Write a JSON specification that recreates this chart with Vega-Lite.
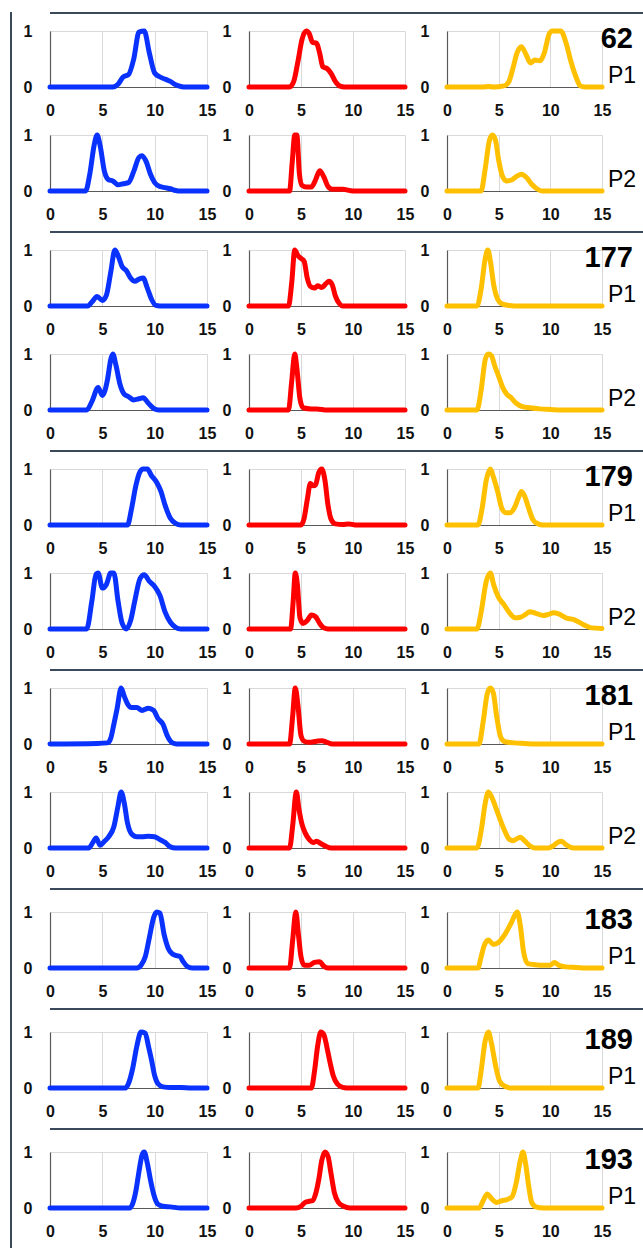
{
"$schema":"https://vega.github.io/schema/vega-lite/v6.json",
"background":"white",
"padding":{"left":10,"top":12,"right":0,"bottom":0},
"datasets":{
"b62_1":[{"x":0,"y":0},{"x":6,"y":0},{"x":6.5,"y":0.05},{"x":7,"y":0.18},{"x":7.5,"y":0.22},{"x":8,"y":0.5},{"x":8.5,"y":0.98},{"x":9,"y":1},{"x":9.5,"y":0.6},{"x":10,"y":0.25},{"x":10.5,"y":0.18},{"x":11,"y":0.14},{"x":11.5,"y":0.1},{"x":12,"y":0.04},{"x":12.5,"y":0.01},{"x":13,"y":0},{"x":15,"y":0}],
"r62_1":[{"x":0,"y":0},{"x":3.9,"y":0},{"x":4.3,"y":0.1},{"x":4.7,"y":0.45},{"x":5.1,"y":0.85},{"x":5.5,"y":1},{"x":5.8,"y":0.95},{"x":6.1,"y":0.8},{"x":6.5,"y":0.78},{"x":6.8,"y":0.6},{"x":7.1,"y":0.36},{"x":7.5,"y":0.33},{"x":7.9,"y":0.24},{"x":8.3,"y":0.1},{"x":8.7,"y":0.02},{"x":9.2,"y":0},{"x":15,"y":0}],
"y62_1":[{"x":0,"y":0},{"x":3.5,"y":0},{"x":4,"y":0.01},{"x":4.5,"y":0},{"x":5.5,"y":0.02},{"x":6,"y":0.1},{"x":6.4,"y":0.35},{"x":6.8,"y":0.62},{"x":7.2,"y":0.72},{"x":7.6,"y":0.6},{"x":8.1,"y":0.43},{"x":8.5,"y":0.48},{"x":9,"y":0.47},{"x":9.4,"y":0.6},{"x":9.9,"y":0.95},{"x":10.2,"y":1},{"x":11,"y":1},{"x":11.5,"y":0.8},{"x":12,"y":0.45},{"x":12.5,"y":0.17},{"x":12.9,"y":0.02},{"x":13.3,"y":0},{"x":15,"y":0}],
"b62_2":[{"x":0,"y":0},{"x":3.4,"y":0},{"x":3.8,"y":0.3},{"x":4.2,"y":0.8},{"x":4.5,"y":1},{"x":4.8,"y":0.8},{"x":5.2,"y":0.35},{"x":5.6,"y":0.2},{"x":6,"y":0.18},{"x":6.5,"y":0.11},{"x":7,"y":0.13},{"x":7.5,"y":0.15},{"x":8,"y":0.35},{"x":8.5,"y":0.6},{"x":8.8,"y":0.63},{"x":9.2,"y":0.52},{"x":9.6,"y":0.3},{"x":10,"y":0.15},{"x":10.5,"y":0.08},{"x":11,"y":0.06},{"x":11.5,"y":0.04},{"x":12,"y":0.01},{"x":12.5,"y":0},{"x":15,"y":0}],
"r62_2":[{"x":0,"y":0},{"x":3.9,"y":0},{"x":4.15,"y":0.5},{"x":4.4,"y":1},{"x":4.6,"y":1},{"x":4.85,"y":0.3},{"x":5.1,"y":0.1},{"x":5.5,"y":0.07},{"x":6,"y":0.07},{"x":6.4,"y":0.2},{"x":6.8,"y":0.36},{"x":7.2,"y":0.25},{"x":7.6,"y":0.08},{"x":8,"y":0.03},{"x":9,"y":0.03},{"x":10,"y":0},{"x":15,"y":0}],
"y62_2":[{"x":0,"y":0},{"x":3.3,"y":0},{"x":3.7,"y":0.4},{"x":4.1,"y":0.9},{"x":4.4,"y":1},{"x":4.7,"y":0.9},{"x":5,"y":0.55},{"x":5.4,"y":0.25},{"x":5.8,"y":0.18},{"x":6.3,"y":0.2},{"x":6.8,"y":0.27},{"x":7.2,"y":0.3},{"x":7.7,"y":0.24},{"x":8.2,"y":0.12},{"x":8.7,"y":0.04},{"x":9.2,"y":0},{"x":15,"y":0}],
"b177_1":[{"x":0,"y":0},{"x":3.6,"y":0},{"x":4,"y":0.07},{"x":4.5,"y":0.17},{"x":5,"y":0.1},{"x":5.4,"y":0.2},{"x":5.8,"y":0.6},{"x":6.2,"y":1},{"x":6.5,"y":0.9},{"x":6.9,"y":0.7},{"x":7.3,"y":0.63},{"x":7.7,"y":0.5},{"x":8.1,"y":0.44},{"x":8.5,"y":0.48},{"x":8.9,"y":0.5},{"x":9.3,"y":0.32},{"x":9.7,"y":0.12},{"x":10.1,"y":0.01},{"x":10.5,"y":0},{"x":15,"y":0}],
"r177_1":[{"x":0,"y":0},{"x":3.8,"y":0},{"x":4.1,"y":0.4},{"x":4.4,"y":1},{"x":4.7,"y":0.9},{"x":5,"y":0.85},{"x":5.3,"y":0.8},{"x":5.6,"y":0.5},{"x":5.9,"y":0.35},{"x":6.3,"y":0.32},{"x":6.6,"y":0.36},{"x":7,"y":0.33},{"x":7.4,"y":0.4},{"x":7.7,"y":0.44},{"x":8,"y":0.38},{"x":8.3,"y":0.18},{"x":8.7,"y":0.04},{"x":9,"y":0},{"x":15,"y":0}],
"y177_1":[{"x":0,"y":0},{"x":2.9,"y":0},{"x":3.3,"y":0.3},{"x":3.7,"y":0.85},{"x":3.95,"y":1},{"x":4.2,"y":0.8},{"x":4.5,"y":0.4},{"x":4.9,"y":0.12},{"x":5.3,"y":0.04},{"x":6,"y":0.01},{"x":7,"y":0},{"x":15,"y":0}],
"b177_2":[{"x":0,"y":0},{"x":3.5,"y":0},{"x":4,"y":0.15},{"x":4.6,"y":0.4},{"x":5,"y":0.26},{"x":5.5,"y":0.55},{"x":5.8,"y":0.9},{"x":6,"y":1},{"x":6.3,"y":0.8},{"x":6.7,"y":0.45},{"x":7.1,"y":0.28},{"x":7.5,"y":0.24},{"x":8,"y":0.18},{"x":8.5,"y":0.2},{"x":8.9,"y":0.22},{"x":9.4,"y":0.12},{"x":9.9,"y":0.03},{"x":10.4,"y":0},{"x":15,"y":0}],
"r177_2":[{"x":0,"y":0},{"x":3.8,"y":0},{"x":4.1,"y":0.5},{"x":4.4,"y":1},{"x":4.6,"y":0.75},{"x":4.9,"y":0.2},{"x":5.2,"y":0.04},{"x":6,"y":0.02},{"x":6.5,"y":0.02},{"x":7.5,"y":0},{"x":15,"y":0}],
"y177_2":[{"x":0,"y":0},{"x":2.9,"y":0},{"x":3.3,"y":0.35},{"x":3.7,"y":0.9},{"x":4,"y":1},{"x":4.3,"y":0.97},{"x":4.6,"y":0.8},{"x":5,"y":0.6},{"x":5.4,"y":0.4},{"x":5.8,"y":0.28},{"x":6.2,"y":0.22},{"x":6.7,"y":0.12},{"x":7.3,"y":0.06},{"x":8,"y":0.04},{"x":9,"y":0.02},{"x":10,"y":0.01},{"x":11,"y":0},{"x":15,"y":0}],
"b179_1":[{"x":0,"y":0},{"x":7.4,"y":0},{"x":7.8,"y":0.3},{"x":8.2,"y":0.7},{"x":8.6,"y":0.95},{"x":8.9,"y":1},{"x":9.3,"y":1},{"x":9.7,"y":0.88},{"x":10.2,"y":0.76},{"x":10.6,"y":0.6},{"x":11,"y":0.35},{"x":11.5,"y":0.12},{"x":12,"y":0.03},{"x":12.5,"y":0},{"x":15,"y":0}],
"r179_1":[{"x":0,"y":0},{"x":5,"y":0},{"x":5.3,"y":0.12},{"x":5.6,"y":0.45},{"x":5.9,"y":0.74},{"x":6.2,"y":0.7},{"x":6.4,"y":0.72},{"x":6.7,"y":0.93},{"x":7,"y":1},{"x":7.3,"y":0.8},{"x":7.6,"y":0.35},{"x":7.9,"y":0.1},{"x":8.3,"y":0.02},{"x":9,"y":0.01},{"x":9.6,"y":0.02},{"x":10.2,"y":0},{"x":15,"y":0}],
"y179_1":[{"x":0,"y":0},{"x":3,"y":0},{"x":3.4,"y":0.3},{"x":3.8,"y":0.8},{"x":4.2,"y":1},{"x":4.5,"y":0.85},{"x":4.9,"y":0.6},{"x":5.3,"y":0.3},{"x":5.7,"y":0.22},{"x":6.1,"y":0.22},{"x":6.5,"y":0.3},{"x":6.9,"y":0.48},{"x":7.2,"y":0.6},{"x":7.5,"y":0.52},{"x":7.9,"y":0.3},{"x":8.3,"y":0.1},{"x":8.8,"y":0.02},{"x":9.3,"y":0},{"x":15,"y":0}],
"b179_2":[{"x":0,"y":0},{"x":3.5,"y":0},{"x":4,"y":0.5},{"x":4.4,"y":0.98},{"x":4.6,"y":1},{"x":5,"y":0.73},{"x":5.4,"y":0.8},{"x":5.8,"y":1},{"x":6.1,"y":1},{"x":6.5,"y":0.5},{"x":6.9,"y":0.1},{"x":7.3,"y":0},{"x":7.7,"y":0.15},{"x":8.1,"y":0.5},{"x":8.6,"y":0.9},{"x":9,"y":0.97},{"x":9.5,"y":0.85},{"x":10,"y":0.76},{"x":10.5,"y":0.6},{"x":11,"y":0.3},{"x":11.5,"y":0.12},{"x":12,"y":0.03},{"x":12.5,"y":0},{"x":15,"y":0}],
"r179_2":[{"x":0,"y":0},{"x":4,"y":0},{"x":4.25,"y":0.5},{"x":4.45,"y":1},{"x":4.65,"y":0.8},{"x":4.9,"y":0.2},{"x":5.2,"y":0.1},{"x":5.6,"y":0.15},{"x":6,"y":0.25},{"x":6.4,"y":0.22},{"x":6.8,"y":0.1},{"x":7.2,"y":0.02},{"x":7.6,"y":0},{"x":15,"y":0}],
"y179_2":[{"x":0,"y":0},{"x":2.9,"y":0},{"x":3.3,"y":0.3},{"x":3.8,"y":0.85},{"x":4.2,"y":1},{"x":4.5,"y":0.8},{"x":5,"y":0.56},{"x":5.5,"y":0.44},{"x":6,"y":0.3},{"x":6.6,"y":0.2},{"x":7.1,"y":0.21},{"x":7.6,"y":0.26},{"x":8,"y":0.31},{"x":8.6,"y":0.28},{"x":9.3,"y":0.24},{"x":9.8,"y":0.26},{"x":10.3,"y":0.29},{"x":10.8,"y":0.27},{"x":11.5,"y":0.2},{"x":12.2,"y":0.17},{"x":12.8,"y":0.12},{"x":13.4,"y":0.06},{"x":14,"y":0.02},{"x":15,"y":0.01}],
"b181_1":[{"x":0,"y":0},{"x":4.5,"y":0.01},{"x":5.5,"y":0.02},{"x":5.8,"y":0.1},{"x":6.1,"y":0.35},{"x":6.4,"y":0.62},{"x":6.8,"y":1},{"x":7.1,"y":0.85},{"x":7.4,"y":0.72},{"x":7.8,"y":0.65},{"x":8.3,"y":0.65},{"x":8.8,"y":0.6},{"x":9.4,"y":0.64},{"x":9.9,"y":0.6},{"x":10.3,"y":0.46},{"x":10.8,"y":0.35},{"x":11.2,"y":0.15},{"x":11.7,"y":0.02},{"x":12.1,"y":0},{"x":15,"y":0}],
"r181_1":[{"x":0,"y":0},{"x":3.9,"y":0},{"x":4.2,"y":0.5},{"x":4.45,"y":1},{"x":4.7,"y":0.7},{"x":5,"y":0.15},{"x":5.3,"y":0.05},{"x":5.8,"y":0.03},{"x":6.5,"y":0.05},{"x":7,"y":0.06},{"x":7.5,"y":0.03},{"x":8,"y":0},{"x":15,"y":0}],
"y181_1":[{"x":0,"y":0},{"x":3.1,"y":0},{"x":3.5,"y":0.4},{"x":3.9,"y":0.9},{"x":4.2,"y":1},{"x":4.5,"y":0.9},{"x":4.8,"y":0.5},{"x":5.2,"y":0.12},{"x":5.6,"y":0.04},{"x":6.5,"y":0.02},{"x":7.5,"y":0.01},{"x":8.5,"y":0},{"x":15,"y":0}],
"b181_2":[{"x":0,"y":0},{"x":3.7,"y":0},{"x":4.1,"y":0.1},{"x":4.4,"y":0.18},{"x":4.8,"y":0.05},{"x":5.2,"y":0.12},{"x":5.6,"y":0.2},{"x":6.1,"y":0.38},{"x":6.5,"y":0.75},{"x":6.8,"y":1},{"x":7.1,"y":0.8},{"x":7.4,"y":0.45},{"x":7.8,"y":0.25},{"x":8.3,"y":0.2},{"x":8.8,"y":0.2},{"x":9.4,"y":0.21},{"x":10,"y":0.2},{"x":10.5,"y":0.15},{"x":11,"y":0.1},{"x":11.5,"y":0.02},{"x":12,"y":0},{"x":15,"y":0}],
"r181_2":[{"x":0,"y":0},{"x":3.9,"y":0},{"x":4.2,"y":0.4},{"x":4.55,"y":1},{"x":4.8,"y":0.7},{"x":5.1,"y":0.42},{"x":5.4,"y":0.27},{"x":5.8,"y":0.15},{"x":6.2,"y":0.1},{"x":6.5,"y":0.12},{"x":6.9,"y":0.08},{"x":7.4,"y":0.03},{"x":7.9,"y":0},{"x":15,"y":0}],
"y181_2":[{"x":0,"y":0},{"x":2.9,"y":0},{"x":3.3,"y":0.3},{"x":3.7,"y":0.8},{"x":4,"y":1},{"x":4.4,"y":0.88},{"x":4.8,"y":0.68},{"x":5.2,"y":0.48},{"x":5.6,"y":0.3},{"x":6,"y":0.16},{"x":6.4,"y":0.13},{"x":6.8,"y":0.17},{"x":7.1,"y":0.19},{"x":7.5,"y":0.13},{"x":8,"y":0.04},{"x":8.5,"y":0},{"x":9.8,"y":0},{"x":10.3,"y":0.04},{"x":10.8,"y":0.11},{"x":11.1,"y":0.12},{"x":11.5,"y":0.06},{"x":12,"y":0.01},{"x":12.5,"y":0},{"x":15,"y":0}],
"b183_1":[{"x":0,"y":0},{"x":8.3,"y":0},{"x":8.7,"y":0.05},{"x":9.1,"y":0.2},{"x":9.5,"y":0.55},{"x":9.9,"y":0.9},{"x":10.2,"y":1},{"x":10.5,"y":0.98},{"x":10.9,"y":0.6},{"x":11.3,"y":0.35},{"x":11.7,"y":0.25},{"x":12.1,"y":0.22},{"x":12.4,"y":0.21},{"x":12.7,"y":0.12},{"x":13.1,"y":0.03},{"x":13.6,"y":0},{"x":15,"y":0}],
"r183_1":[{"x":0,"y":0},{"x":3.9,"y":0},{"x":4.2,"y":0.5},{"x":4.5,"y":1},{"x":4.75,"y":0.6},{"x":5,"y":0.2},{"x":5.3,"y":0.05},{"x":5.8,"y":0.05},{"x":6.3,"y":0.1},{"x":6.8,"y":0.11},{"x":7.2,"y":0.03},{"x":7.6,"y":0},{"x":15,"y":0}],
"y183_1":[{"x":0,"y":0},{"x":3,"y":0},{"x":3.3,"y":0.2},{"x":3.6,"y":0.4},{"x":4,"y":0.5},{"x":4.5,"y":0.42},{"x":5,"y":0.46},{"x":5.6,"y":0.6},{"x":6.2,"y":0.8},{"x":6.8,"y":1},{"x":7.1,"y":0.75},{"x":7.4,"y":0.3},{"x":7.8,"y":0.08},{"x":8.5,"y":0.06},{"x":9.5,"y":0.05},{"x":10,"y":0.05},{"x":10.4,"y":0.1},{"x":10.8,"y":0.05},{"x":11.5,"y":0.02},{"x":12.5,"y":0.01},{"x":13.5,"y":0},{"x":15,"y":0}],
"b189_1":[{"x":0,"y":0},{"x":7.2,"y":0},{"x":7.5,"y":0.08},{"x":7.9,"y":0.35},{"x":8.3,"y":0.75},{"x":8.7,"y":1},{"x":9.1,"y":0.98},{"x":9.4,"y":0.75},{"x":9.7,"y":0.5},{"x":10,"y":0.22},{"x":10.3,"y":0.08},{"x":10.8,"y":0.02},{"x":11.5,"y":0.01},{"x":12.5,"y":0.01},{"x":13.5,"y":0},{"x":15,"y":0}],
"r189_1":[{"x":0,"y":0},{"x":6,"y":0},{"x":6.3,"y":0.3},{"x":6.6,"y":0.75},{"x":6.9,"y":1},{"x":7.2,"y":0.95},{"x":7.5,"y":0.72},{"x":7.8,"y":0.45},{"x":8.1,"y":0.22},{"x":8.5,"y":0.07},{"x":9,"y":0.01},{"x":9.4,"y":0},{"x":15,"y":0}],
"y189_1":[{"x":0,"y":0},{"x":3,"y":0},{"x":3.3,"y":0.3},{"x":3.7,"y":0.85},{"x":4,"y":1},{"x":4.3,"y":0.8},{"x":4.7,"y":0.4},{"x":5.1,"y":0.12},{"x":5.6,"y":0.03},{"x":6.2,"y":0},{"x":15,"y":0}],
"b193_1":[{"x":0,"y":0},{"x":7.6,"y":0},{"x":7.9,"y":0.08},{"x":8.2,"y":0.3},{"x":8.5,"y":0.65},{"x":8.8,"y":0.95},{"x":9,"y":1},{"x":9.3,"y":0.8},{"x":9.6,"y":0.5},{"x":9.9,"y":0.25},{"x":10.3,"y":0.07},{"x":10.8,"y":0.03},{"x":11.5,"y":0.02},{"x":12.5,"y":0},{"x":15,"y":0}],
"r193_1":[{"x":0,"y":0},{"x":4.5,"y":0},{"x":5,"y":0.03},{"x":5.4,"y":0.1},{"x":5.8,"y":0.12},{"x":6.1,"y":0.13},{"x":6.4,"y":0.25},{"x":6.7,"y":0.5},{"x":7,"y":0.85},{"x":7.3,"y":1},{"x":7.6,"y":0.92},{"x":7.9,"y":0.6},{"x":8.2,"y":0.28},{"x":8.6,"y":0.1},{"x":9.1,"y":0.03},{"x":9.7,"y":0},{"x":15,"y":0}],
"y193_1":[{"x":0,"y":0},{"x":3.1,"y":0},{"x":3.5,"y":0.13},{"x":3.9,"y":0.25},{"x":4.3,"y":0.17},{"x":4.8,"y":0.1},{"x":5.3,"y":0.13},{"x":5.8,"y":0.15},{"x":6.3,"y":0.2},{"x":6.7,"y":0.45},{"x":7.1,"y":0.85},{"x":7.35,"y":1},{"x":7.6,"y":0.8},{"x":7.9,"y":0.4},{"x":8.2,"y":0.1},{"x":8.6,"y":0.02},{"x":9.3,"y":0},{"x":15,"y":0}]
},
"spacing":0,
"hconcat":[
{"width":2,"height":1236,"data":{"values":[]},"mark":{"type":"rule"},"encoding":{},"view":{"fill":"#3b4a5a","stroke":null}},
{"spacing":9,"vconcat":[
{"spacing":9,"vconcat":[
{"width":631,"height":2,"data":{"values":[]},"mark":{"type":"rule"},"encoding":{},"view":{"fill":"#3b4a5a","stroke":null}},
{"spacing":42,"bounds":"flush","hconcat":[
{"width":157,"height":56,"data":{"name":"b62_1"},"mark":{"type":"line","color":"#0a32ff"},"encoding":{"x":{"field":"x","type":"quantitative","title":null,"scale":{"domain":[0,15],"nice":false},"axis":{"values":[0,5,10,15]}},"y":{"field":"y","type":"quantitative","title":null,"scale":{"domain":[0,1],"nice":false},"axis":{"values":[0,1],"format":"d","minExtent":38}}}},
{"width":156,"height":56,"data":{"name":"r62_1"},"mark":{"type":"line","color":"#ff0000"},"encoding":{"x":{"field":"x","type":"quantitative","title":null,"scale":{"domain":[0,15],"nice":false},"axis":{"values":[0,5,10,15]}},"y":{"field":"y","type":"quantitative","title":null,"scale":{"domain":[0,1],"nice":false},"axis":{"values":[0,1],"format":"d"}}}},
{"width":155,"height":56,"layer":[
{"data":{"name":"y62_1"},"mark":{"type":"line","color":"#ffc000"},"encoding":{"x":{"field":"x","type":"quantitative","title":null,"scale":{"domain":[0,15],"nice":false},"axis":{"values":[0,5,10,15]}},"y":{"field":"y","type":"quantitative","title":null,"scale":{"domain":[0,1],"nice":false},"axis":{"values":[0,1],"format":"d"}}}},
{"data":{"values":[{"label":"62"}]},"mark":{"type":"text","align":"right","baseline":"middle","dx":31,"dy":8,"fontSize":29,"fontWeight":"bold","color":"#000000"},"encoding":{"x":{"datum":15,"title":null},"y":{"datum":1,"title":null},"text":{"field":"label"}}},
{"data":{"values":[{"label":"P1"}]},"mark":{"type":"text","align":"left","baseline":"middle","dx":6,"dy":-11,"fontSize":23,"color":"#000000"},"encoding":{"x":{"datum":15,"title":null},"y":{"datum":0,"title":null},"text":{"field":"label"}}}
]}
]},
{"spacing":42,"bounds":"flush","hconcat":[
{"width":157,"height":56,"data":{"name":"b62_2"},"mark":{"type":"line","color":"#0a32ff"},"encoding":{"x":{"field":"x","type":"quantitative","title":null,"scale":{"domain":[0,15],"nice":false},"axis":{"values":[0,5,10,15]}},"y":{"field":"y","type":"quantitative","title":null,"scale":{"domain":[0,1],"nice":false},"axis":{"values":[0,1],"format":"d","minExtent":38}}}},
{"width":156,"height":56,"data":{"name":"r62_2"},"mark":{"type":"line","color":"#ff0000"},"encoding":{"x":{"field":"x","type":"quantitative","title":null,"scale":{"domain":[0,15],"nice":false},"axis":{"values":[0,5,10,15]}},"y":{"field":"y","type":"quantitative","title":null,"scale":{"domain":[0,1],"nice":false},"axis":{"values":[0,1],"format":"d"}}}},
{"width":155,"height":56,"layer":[
{"data":{"name":"y62_2"},"mark":{"type":"line","color":"#ffc000"},"encoding":{"x":{"field":"x","type":"quantitative","title":null,"scale":{"domain":[0,15],"nice":false},"axis":{"values":[0,5,10,15]}},"y":{"field":"y","type":"quantitative","title":null,"scale":{"domain":[0,1],"nice":false},"axis":{"values":[0,1],"format":"d"}}}},
{"data":{"values":[{"label":"P2"}]},"mark":{"type":"text","align":"left","baseline":"middle","dx":6,"dy":-11,"fontSize":23,"color":"#000000"},"encoding":{"x":{"datum":15,"title":null},"y":{"datum":0,"title":null},"text":{"field":"label"}}}
]}
]}
]},
{"spacing":9,"vconcat":[
{"width":631,"height":2,"data":{"values":[]},"mark":{"type":"rule"},"encoding":{},"view":{"fill":"#3b4a5a","stroke":null}},
{"spacing":42,"bounds":"flush","hconcat":[
{"width":157,"height":56,"data":{"name":"b177_1"},"mark":{"type":"line","color":"#0a32ff"},"encoding":{"x":{"field":"x","type":"quantitative","title":null,"scale":{"domain":[0,15],"nice":false},"axis":{"values":[0,5,10,15]}},"y":{"field":"y","type":"quantitative","title":null,"scale":{"domain":[0,1],"nice":false},"axis":{"values":[0,1],"format":"d","minExtent":38}}}},
{"width":156,"height":56,"data":{"name":"r177_1"},"mark":{"type":"line","color":"#ff0000"},"encoding":{"x":{"field":"x","type":"quantitative","title":null,"scale":{"domain":[0,15],"nice":false},"axis":{"values":[0,5,10,15]}},"y":{"field":"y","type":"quantitative","title":null,"scale":{"domain":[0,1],"nice":false},"axis":{"values":[0,1],"format":"d"}}}},
{"width":155,"height":56,"layer":[
{"data":{"name":"y177_1"},"mark":{"type":"line","color":"#ffc000"},"encoding":{"x":{"field":"x","type":"quantitative","title":null,"scale":{"domain":[0,15],"nice":false},"axis":{"values":[0,5,10,15]}},"y":{"field":"y","type":"quantitative","title":null,"scale":{"domain":[0,1],"nice":false},"axis":{"values":[0,1],"format":"d"}}}},
{"data":{"values":[{"label":"177"}]},"mark":{"type":"text","align":"right","baseline":"middle","dx":31,"dy":8,"fontSize":29,"fontWeight":"bold","color":"#000000"},"encoding":{"x":{"datum":15,"title":null},"y":{"datum":1,"title":null},"text":{"field":"label"}}},
{"data":{"values":[{"label":"P1"}]},"mark":{"type":"text","align":"left","baseline":"middle","dx":6,"dy":-11,"fontSize":23,"color":"#000000"},"encoding":{"x":{"datum":15,"title":null},"y":{"datum":0,"title":null},"text":{"field":"label"}}}
]}
]},
{"spacing":42,"bounds":"flush","hconcat":[
{"width":157,"height":56,"data":{"name":"b177_2"},"mark":{"type":"line","color":"#0a32ff"},"encoding":{"x":{"field":"x","type":"quantitative","title":null,"scale":{"domain":[0,15],"nice":false},"axis":{"values":[0,5,10,15]}},"y":{"field":"y","type":"quantitative","title":null,"scale":{"domain":[0,1],"nice":false},"axis":{"values":[0,1],"format":"d","minExtent":38}}}},
{"width":156,"height":56,"data":{"name":"r177_2"},"mark":{"type":"line","color":"#ff0000"},"encoding":{"x":{"field":"x","type":"quantitative","title":null,"scale":{"domain":[0,15],"nice":false},"axis":{"values":[0,5,10,15]}},"y":{"field":"y","type":"quantitative","title":null,"scale":{"domain":[0,1],"nice":false},"axis":{"values":[0,1],"format":"d"}}}},
{"width":155,"height":56,"layer":[
{"data":{"name":"y177_2"},"mark":{"type":"line","color":"#ffc000"},"encoding":{"x":{"field":"x","type":"quantitative","title":null,"scale":{"domain":[0,15],"nice":false},"axis":{"values":[0,5,10,15]}},"y":{"field":"y","type":"quantitative","title":null,"scale":{"domain":[0,1],"nice":false},"axis":{"values":[0,1],"format":"d"}}}},
{"data":{"values":[{"label":"P2"}]},"mark":{"type":"text","align":"left","baseline":"middle","dx":6,"dy":-11,"fontSize":23,"color":"#000000"},"encoding":{"x":{"datum":15,"title":null},"y":{"datum":0,"title":null},"text":{"field":"label"}}}
]}
]}
]},
{"spacing":9,"vconcat":[
{"width":631,"height":2,"data":{"values":[]},"mark":{"type":"rule"},"encoding":{},"view":{"fill":"#3b4a5a","stroke":null}},
{"spacing":42,"bounds":"flush","hconcat":[
{"width":157,"height":56,"data":{"name":"b179_1"},"mark":{"type":"line","color":"#0a32ff"},"encoding":{"x":{"field":"x","type":"quantitative","title":null,"scale":{"domain":[0,15],"nice":false},"axis":{"values":[0,5,10,15]}},"y":{"field":"y","type":"quantitative","title":null,"scale":{"domain":[0,1],"nice":false},"axis":{"values":[0,1],"format":"d","minExtent":38}}}},
{"width":156,"height":56,"data":{"name":"r179_1"},"mark":{"type":"line","color":"#ff0000"},"encoding":{"x":{"field":"x","type":"quantitative","title":null,"scale":{"domain":[0,15],"nice":false},"axis":{"values":[0,5,10,15]}},"y":{"field":"y","type":"quantitative","title":null,"scale":{"domain":[0,1],"nice":false},"axis":{"values":[0,1],"format":"d"}}}},
{"width":155,"height":56,"layer":[
{"data":{"name":"y179_1"},"mark":{"type":"line","color":"#ffc000"},"encoding":{"x":{"field":"x","type":"quantitative","title":null,"scale":{"domain":[0,15],"nice":false},"axis":{"values":[0,5,10,15]}},"y":{"field":"y","type":"quantitative","title":null,"scale":{"domain":[0,1],"nice":false},"axis":{"values":[0,1],"format":"d"}}}},
{"data":{"values":[{"label":"179"}]},"mark":{"type":"text","align":"right","baseline":"middle","dx":31,"dy":8,"fontSize":29,"fontWeight":"bold","color":"#000000"},"encoding":{"x":{"datum":15,"title":null},"y":{"datum":1,"title":null},"text":{"field":"label"}}},
{"data":{"values":[{"label":"P1"}]},"mark":{"type":"text","align":"left","baseline":"middle","dx":6,"dy":-11,"fontSize":23,"color":"#000000"},"encoding":{"x":{"datum":15,"title":null},"y":{"datum":0,"title":null},"text":{"field":"label"}}}
]}
]},
{"spacing":42,"bounds":"flush","hconcat":[
{"width":157,"height":56,"data":{"name":"b179_2"},"mark":{"type":"line","color":"#0a32ff"},"encoding":{"x":{"field":"x","type":"quantitative","title":null,"scale":{"domain":[0,15],"nice":false},"axis":{"values":[0,5,10,15]}},"y":{"field":"y","type":"quantitative","title":null,"scale":{"domain":[0,1],"nice":false},"axis":{"values":[0,1],"format":"d","minExtent":38}}}},
{"width":156,"height":56,"data":{"name":"r179_2"},"mark":{"type":"line","color":"#ff0000"},"encoding":{"x":{"field":"x","type":"quantitative","title":null,"scale":{"domain":[0,15],"nice":false},"axis":{"values":[0,5,10,15]}},"y":{"field":"y","type":"quantitative","title":null,"scale":{"domain":[0,1],"nice":false},"axis":{"values":[0,1],"format":"d"}}}},
{"width":155,"height":56,"layer":[
{"data":{"name":"y179_2"},"mark":{"type":"line","color":"#ffc000"},"encoding":{"x":{"field":"x","type":"quantitative","title":null,"scale":{"domain":[0,15],"nice":false},"axis":{"values":[0,5,10,15]}},"y":{"field":"y","type":"quantitative","title":null,"scale":{"domain":[0,1],"nice":false},"axis":{"values":[0,1],"format":"d"}}}},
{"data":{"values":[{"label":"P2"}]},"mark":{"type":"text","align":"left","baseline":"middle","dx":6,"dy":-11,"fontSize":23,"color":"#000000"},"encoding":{"x":{"datum":15,"title":null},"y":{"datum":0,"title":null},"text":{"field":"label"}}}
]}
]}
]},
{"spacing":9,"vconcat":[
{"width":631,"height":2,"data":{"values":[]},"mark":{"type":"rule"},"encoding":{},"view":{"fill":"#3b4a5a","stroke":null}},
{"spacing":42,"bounds":"flush","hconcat":[
{"width":157,"height":56,"data":{"name":"b181_1"},"mark":{"type":"line","color":"#0a32ff"},"encoding":{"x":{"field":"x","type":"quantitative","title":null,"scale":{"domain":[0,15],"nice":false},"axis":{"values":[0,5,10,15]}},"y":{"field":"y","type":"quantitative","title":null,"scale":{"domain":[0,1],"nice":false},"axis":{"values":[0,1],"format":"d","minExtent":38}}}},
{"width":156,"height":56,"data":{"name":"r181_1"},"mark":{"type":"line","color":"#ff0000"},"encoding":{"x":{"field":"x","type":"quantitative","title":null,"scale":{"domain":[0,15],"nice":false},"axis":{"values":[0,5,10,15]}},"y":{"field":"y","type":"quantitative","title":null,"scale":{"domain":[0,1],"nice":false},"axis":{"values":[0,1],"format":"d"}}}},
{"width":155,"height":56,"layer":[
{"data":{"name":"y181_1"},"mark":{"type":"line","color":"#ffc000"},"encoding":{"x":{"field":"x","type":"quantitative","title":null,"scale":{"domain":[0,15],"nice":false},"axis":{"values":[0,5,10,15]}},"y":{"field":"y","type":"quantitative","title":null,"scale":{"domain":[0,1],"nice":false},"axis":{"values":[0,1],"format":"d"}}}},
{"data":{"values":[{"label":"181"}]},"mark":{"type":"text","align":"right","baseline":"middle","dx":31,"dy":8,"fontSize":29,"fontWeight":"bold","color":"#000000"},"encoding":{"x":{"datum":15,"title":null},"y":{"datum":1,"title":null},"text":{"field":"label"}}},
{"data":{"values":[{"label":"P1"}]},"mark":{"type":"text","align":"left","baseline":"middle","dx":6,"dy":-11,"fontSize":23,"color":"#000000"},"encoding":{"x":{"datum":15,"title":null},"y":{"datum":0,"title":null},"text":{"field":"label"}}}
]}
]},
{"spacing":42,"bounds":"flush","hconcat":[
{"width":157,"height":56,"data":{"name":"b181_2"},"mark":{"type":"line","color":"#0a32ff"},"encoding":{"x":{"field":"x","type":"quantitative","title":null,"scale":{"domain":[0,15],"nice":false},"axis":{"values":[0,5,10,15]}},"y":{"field":"y","type":"quantitative","title":null,"scale":{"domain":[0,1],"nice":false},"axis":{"values":[0,1],"format":"d","minExtent":38}}}},
{"width":156,"height":56,"data":{"name":"r181_2"},"mark":{"type":"line","color":"#ff0000"},"encoding":{"x":{"field":"x","type":"quantitative","title":null,"scale":{"domain":[0,15],"nice":false},"axis":{"values":[0,5,10,15]}},"y":{"field":"y","type":"quantitative","title":null,"scale":{"domain":[0,1],"nice":false},"axis":{"values":[0,1],"format":"d"}}}},
{"width":155,"height":56,"layer":[
{"data":{"name":"y181_2"},"mark":{"type":"line","color":"#ffc000"},"encoding":{"x":{"field":"x","type":"quantitative","title":null,"scale":{"domain":[0,15],"nice":false},"axis":{"values":[0,5,10,15]}},"y":{"field":"y","type":"quantitative","title":null,"scale":{"domain":[0,1],"nice":false},"axis":{"values":[0,1],"format":"d"}}}},
{"data":{"values":[{"label":"P2"}]},"mark":{"type":"text","align":"left","baseline":"middle","dx":6,"dy":-11,"fontSize":23,"color":"#000000"},"encoding":{"x":{"datum":15,"title":null},"y":{"datum":0,"title":null},"text":{"field":"label"}}}
]}
]}
]},
{"spacing":14,"vconcat":[
{"width":631,"height":2,"data":{"values":[]},"mark":{"type":"rule"},"encoding":{},"view":{"fill":"#3b4a5a","stroke":null}},
{"spacing":42,"bounds":"flush","hconcat":[
{"width":157,"height":56,"data":{"name":"b183_1"},"mark":{"type":"line","color":"#0a32ff"},"encoding":{"x":{"field":"x","type":"quantitative","title":null,"scale":{"domain":[0,15],"nice":false},"axis":{"values":[0,5,10,15]}},"y":{"field":"y","type":"quantitative","title":null,"scale":{"domain":[0,1],"nice":false},"axis":{"values":[0,1],"format":"d","minExtent":38}}}},
{"width":156,"height":56,"data":{"name":"r183_1"},"mark":{"type":"line","color":"#ff0000"},"encoding":{"x":{"field":"x","type":"quantitative","title":null,"scale":{"domain":[0,15],"nice":false},"axis":{"values":[0,5,10,15]}},"y":{"field":"y","type":"quantitative","title":null,"scale":{"domain":[0,1],"nice":false},"axis":{"values":[0,1],"format":"d"}}}},
{"width":155,"height":56,"layer":[
{"data":{"name":"y183_1"},"mark":{"type":"line","color":"#ffc000"},"encoding":{"x":{"field":"x","type":"quantitative","title":null,"scale":{"domain":[0,15],"nice":false},"axis":{"values":[0,5,10,15]}},"y":{"field":"y","type":"quantitative","title":null,"scale":{"domain":[0,1],"nice":false},"axis":{"values":[0,1],"format":"d"}}}},
{"data":{"values":[{"label":"183"}]},"mark":{"type":"text","align":"right","baseline":"middle","dx":31,"dy":8,"fontSize":29,"fontWeight":"bold","color":"#000000"},"encoding":{"x":{"datum":15,"title":null},"y":{"datum":1,"title":null},"text":{"field":"label"}}},
{"data":{"values":[{"label":"P1"}]},"mark":{"type":"text","align":"left","baseline":"middle","dx":6,"dy":-11,"fontSize":23,"color":"#000000"},"encoding":{"x":{"datum":15,"title":null},"y":{"datum":0,"title":null},"text":{"field":"label"}}}
]}
]}
]},
{"spacing":14,"vconcat":[
{"width":631,"height":2,"data":{"values":[]},"mark":{"type":"rule"},"encoding":{},"view":{"fill":"#3b4a5a","stroke":null}},
{"spacing":42,"bounds":"flush","hconcat":[
{"width":157,"height":56,"data":{"name":"b189_1"},"mark":{"type":"line","color":"#0a32ff"},"encoding":{"x":{"field":"x","type":"quantitative","title":null,"scale":{"domain":[0,15],"nice":false},"axis":{"values":[0,5,10,15]}},"y":{"field":"y","type":"quantitative","title":null,"scale":{"domain":[0,1],"nice":false},"axis":{"values":[0,1],"format":"d","minExtent":38}}}},
{"width":156,"height":56,"data":{"name":"r189_1"},"mark":{"type":"line","color":"#ff0000"},"encoding":{"x":{"field":"x","type":"quantitative","title":null,"scale":{"domain":[0,15],"nice":false},"axis":{"values":[0,5,10,15]}},"y":{"field":"y","type":"quantitative","title":null,"scale":{"domain":[0,1],"nice":false},"axis":{"values":[0,1],"format":"d"}}}},
{"width":155,"height":56,"layer":[
{"data":{"name":"y189_1"},"mark":{"type":"line","color":"#ffc000"},"encoding":{"x":{"field":"x","type":"quantitative","title":null,"scale":{"domain":[0,15],"nice":false},"axis":{"values":[0,5,10,15]}},"y":{"field":"y","type":"quantitative","title":null,"scale":{"domain":[0,1],"nice":false},"axis":{"values":[0,1],"format":"d"}}}},
{"data":{"values":[{"label":"189"}]},"mark":{"type":"text","align":"right","baseline":"middle","dx":31,"dy":8,"fontSize":29,"fontWeight":"bold","color":"#000000"},"encoding":{"x":{"datum":15,"title":null},"y":{"datum":1,"title":null},"text":{"field":"label"}}},
{"data":{"values":[{"label":"P1"}]},"mark":{"type":"text","align":"left","baseline":"middle","dx":6,"dy":-11,"fontSize":23,"color":"#000000"},"encoding":{"x":{"datum":15,"title":null},"y":{"datum":0,"title":null},"text":{"field":"label"}}}
]}
]}
]},
{"spacing":14,"vconcat":[
{"width":631,"height":2,"data":{"values":[]},"mark":{"type":"rule"},"encoding":{},"view":{"fill":"#3b4a5a","stroke":null}},
{"spacing":42,"bounds":"flush","hconcat":[
{"width":157,"height":56,"data":{"name":"b193_1"},"mark":{"type":"line","color":"#0a32ff"},"encoding":{"x":{"field":"x","type":"quantitative","title":null,"scale":{"domain":[0,15],"nice":false},"axis":{"values":[0,5,10,15]}},"y":{"field":"y","type":"quantitative","title":null,"scale":{"domain":[0,1],"nice":false},"axis":{"values":[0,1],"format":"d","minExtent":38}}}},
{"width":156,"height":56,"data":{"name":"r193_1"},"mark":{"type":"line","color":"#ff0000"},"encoding":{"x":{"field":"x","type":"quantitative","title":null,"scale":{"domain":[0,15],"nice":false},"axis":{"values":[0,5,10,15]}},"y":{"field":"y","type":"quantitative","title":null,"scale":{"domain":[0,1],"nice":false},"axis":{"values":[0,1],"format":"d"}}}},
{"width":155,"height":56,"layer":[
{"data":{"name":"y193_1"},"mark":{"type":"line","color":"#ffc000"},"encoding":{"x":{"field":"x","type":"quantitative","title":null,"scale":{"domain":[0,15],"nice":false},"axis":{"values":[0,5,10,15]}},"y":{"field":"y","type":"quantitative","title":null,"scale":{"domain":[0,1],"nice":false},"axis":{"values":[0,1],"format":"d"}}}},
{"data":{"values":[{"label":"193"}]},"mark":{"type":"text","align":"right","baseline":"middle","dx":31,"dy":8,"fontSize":29,"fontWeight":"bold","color":"#000000"},"encoding":{"x":{"datum":15,"title":null},"y":{"datum":1,"title":null},"text":{"field":"label"}}},
{"data":{"values":[{"label":"P1"}]},"mark":{"type":"text","align":"left","baseline":"middle","dx":6,"dy":-11,"fontSize":23,"color":"#000000"},"encoding":{"x":{"datum":15,"title":null},"y":{"datum":0,"title":null},"text":{"field":"label"}}}
]}
]}
]}
]}
],
"config":{
"font":"Liberation Sans",
"view":{"stroke":null},
"line":{"strokeWidth":5,"interpolate":"monotone","strokeCap":"round","strokeJoin":"round"},
"axis":{"grid":true,"gridColor":"#d9d9d9","gridWidth":1,"domainColor":"#595959","domainWidth":1.2,"ticks":false,"tickSize":0,"labelFont":"Liberation Sans","labelFontSize":16,"labelFontWeight":"bold","labelColor":"#111111","labelFlush":false,"labelOverlap":false,"labelBound":false},
"axisX":{"labelPadding":15},
"axisY":{"labelPadding":18}
}
}
